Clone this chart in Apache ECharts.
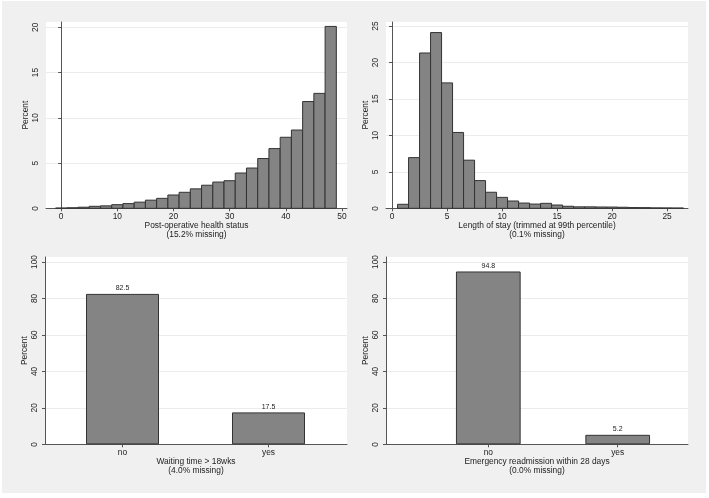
<!DOCTYPE html>
<html><head><meta charset="utf-8">
<script src="https://cdn.jsdelivr.net/npm/echarts@6/dist/echarts.min.js"></script>
<style>html,body{margin:0;padding:0;background:#fff}#c{width:709px;height:498px}</style>
</head><body><div id="c"></div>
<script>
// ---- data ----
const healthBinLo = [-1,1,3,5,7,9,11,13,15,17,19,21,23,25,27,29,31,33,35,37,39,41,43,45,47];
const healthBinWidth = 2;
const healthPct = [0.03,0.06,0.12,0.22,0.27,0.4,0.52,0.68,0.9,1.1,1.47,1.77,2.15,2.55,2.9,3.05,3.9,4.45,5.5,6.6,7.85,8.65,11.8,12.7,20.1];
const healthXTicks = [0,10,20,30,40,50];
const healthYTicks = [0,5,10,15,20];

const losBinLo = [0.5,1.5,2.5,3.5,4.5,5.5,6.5,7.5,8.5,9.5,10.5,11.5,12.5,13.5,14.5,15.5,16.5,17.5,18.5,19.5,20.5,21.5,22.5,23.5,24.5,25.5];
const losBinWidth = 1;
const losPct = [0.55,6.95,21.3,24.1,17.2,10.4,6.6,3.8,2.2,1.5,1.0,0.72,0.58,0.68,0.45,0.28,0.2,0.2,0.18,0.17,0.14,0.1,0.09,0.06,0.05,0.04];
const losXTicks = [0,5,10,15,20,25];
const losYTicks = [0,5,10,15,20,25];

const waitCats = ['no','yes'];
const waitPct = [82.5,17.5];
const readmCats = ['no','yes'];
const readmPct = [94.8,5.2];
const pctYTicks = [0,20,40,60,80,100];

const titles = [
  'Post-operative health status\n(15.2% missing)',
  'Length of stay (trimmed at 99th percentile)\n(0.1% missing)',
  'Waiting time > 18wks\n(4.0% missing)',
  'Emergency readmission within 28 days\n(0.0% missing)'
];

// ---- style ----
const FF = 'Liberation Sans, Arial, sans-serif';
const FS = 8.4;
const TXT = '#222';
const AX = '#555';
const GRIDC = '#ececec';
const BAR = '#848484';
const EDGE = '#333';

function yAx(gi, max, ticks, visible) {
  if (!visible) return {type:'value', gridIndex:gi, min:0, max:max, show:false, splitLine:{show:false}};
  return {
    type:'value', gridIndex:gi, min:0, max:max, interval: ticks[1]-ticks[0],
    name:'Percent', nameLocation:'middle', nameGap:16, nameRotate:90,
    nameTextStyle:{fontFamily:FF, fontSize:FS, color:TXT},
    axisLine:{show:true, lineStyle:{color:AX, width:1}},
    axisTick:{show:true, length:3, customValues:ticks, lineStyle:{color:AX}},
    axisLabel:{rotate:90, margin:6, customValues:ticks, fontFamily:FF, fontSize:FS, color:TXT},
    splitLine:{show:true, lineStyle:{color:GRIDC, width:1}}
  };
}
function xVal(gi, min, max, ticks, name) {
  return {
    type:'value', gridIndex:gi, min:min, max:max,
    name:name, nameLocation:'middle', nameGap:13.5,
    nameTextStyle:{fontFamily:FF, fontSize:FS, color:TXT, lineHeight:8.6, verticalAlign:'top'},
    axisLine:{show:true, lineStyle:{color:AX, width:1}},
    axisTick:{show:!!ticks, length:3, customValues:ticks||[], lineStyle:{color:AX}},
    axisLabel:{show:!!ticks, margin:4, customValues:ticks||[], fontFamily:FF, fontSize:FS, color:TXT},
    splitLine:{show:false}
  };
}
function xCat(gi, cats) {
  return {
    type:'category', gridIndex:gi, data:cats,
    axisLine:{show:false},
    axisTick:{show:true, alignWithLabel:true, length:3, lineStyle:{color:AX}},
    axisLabel:{margin:4, fontFamily:FF, fontSize:FS, color:TXT},
    splitLine:{show:false}
  };
}
function histo(xi, lo, w, pct) {
  return {
    type:'custom', xAxisIndex:xi, yAxisIndex:xi,
    data: lo.map((l,i)=>[l, l+w, pct[i]]),
    encode:{x:[0,1], y:2},
    renderItem:function(params, api){
      const p0 = api.coord([api.value(0), api.value(2)]);
      const p1 = api.coord([api.value(1), 0]);
      return {type:'rect', shape:{x:p0[0], y:p0[1], width:p1[0]-p0[0], height:p1[1]-p0[1]},
        style:{fill:BAR, stroke:EDGE, lineWidth:1}};
    }
  };
}
function bars(xi, vals) {
  return {
    type:'bar', xAxisIndex:xi, yAxisIndex:xi, data:vals, barWidth:'50%',
    itemStyle:{color:BAR, borderColor:EDGE, borderWidth:1},
    label:{show:true, position:'top', distance:2, fontFamily:FF, fontSize:7, color:TXT,
      formatter:p=>Number(p.value).toFixed(1)}
  };
}

const gBg = {show:true, backgroundColor:'#fff', borderWidth:0};
const option = {
  animation:false,
  backgroundColor:'#fff',
  graphic:[{type:'rect', z:-100, shape:{x:2, y:1, width:704, height:492}, style:{fill:'#f0f0f0'}}],
  grid:[
    Object.assign({left:46, top:22, width:301, height:186.3}, gBg),
    Object.assign({left:386, top:22, width:302, height:186.3}, gBg),
    Object.assign({left:45, top:257, width:302, height:187.3}, gBg),
    {left:49.5, top:257, width:292, height:187.3, show:false},
    Object.assign({left:386, top:257, width:302, height:187.3}, gBg),
    {left:423.6, top:257, width:258.8, height:187.3, show:false}
  ],
  xAxis:[
    xVal(0, -2.7, 50.9, healthXTicks, titles[0]),
    xVal(1, -0.55, 26.9, losXTicks, titles[1]),
    xVal(2, 0, 1, null, titles[2]),
    xCat(3, waitCats),
    xVal(4, 0, 1, null, titles[3]),
    xCat(5, readmCats)
  ],
  yAxis:[
    yAx(0, 20.59, healthYTicks, true),
    yAx(1, 25.55, losYTicks, true),
    yAx(2, 102.74, pctYTicks, true),
    yAx(3, 102.74, pctYTicks, false),
    yAx(4, 102.74, pctYTicks, true),
    yAx(5, 102.74, pctYTicks, false)
  ],
  series:[
    histo(0, healthBinLo, healthBinWidth, healthPct),
    histo(1, losBinLo, losBinWidth, losPct),
    bars(3, waitPct),
    bars(5, readmPct)
  ]
};
const chart = echarts.init(document.getElementById('c'), null, {renderer:'canvas'});
chart.setOption(option);
</script></body></html>
